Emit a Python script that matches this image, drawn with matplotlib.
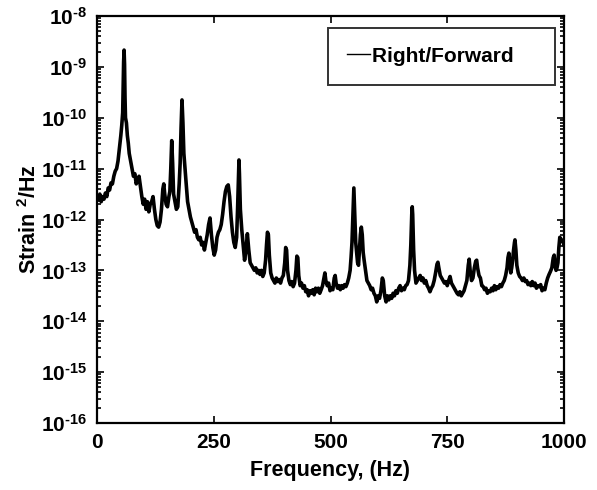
import numpy as np
import matplotlib
matplotlib.use("Agg")
from matplotlib import pyplot as plt
from matplotlib.ticker import FixedLocator, LogLocator, FuncFormatter, NullFormatter

# spectrum: frequency (Hz) and log10 of PSD (strain^2/Hz)
freq = [0, 3, 6, 9, 12, 15, 18, 21, 24, 27, 30, 33, 36, 39, 42, 45, 48, 51, 53, 55,
        56, 57, 58, 59, 60, 61, 63, 65, 67, 69, 72, 75, 78, 81, 84, 87, 90, 93, 96, 99,
        102, 105, 108, 111, 114, 117, 120, 123, 126, 129, 132, 135, 138, 141, 143, 145,
        148, 151, 154, 156, 158, 160, 162, 164, 167, 170, 173, 176, 178, 180, 182, 184,
        186, 188, 191, 194, 197, 200, 203, 206, 209, 212, 215, 218, 221, 224, 227, 230,
        233, 236, 239, 242, 245, 248, 251, 254, 257, 260, 263, 266, 269, 272, 275, 278,
        281, 284, 287, 290, 293, 296, 299, 301, 303, 304, 305, 307, 310, 313, 316, 319,
        322, 325, 328, 331, 334, 337, 340, 343, 346, 349, 352, 355, 358, 361, 363, 365,
        367, 369, 372, 375, 378, 381, 384, 387, 390, 393, 396, 399, 402, 404, 406, 408,
        411, 414, 417, 420, 423, 426, 428, 430, 432, 435, 438, 441, 444, 447, 450, 453,
        456, 459, 462, 465, 468, 471, 474, 477, 480, 483, 486, 488, 490, 493, 496, 499,
        502, 505, 508, 510, 512, 515, 518, 521, 524, 527, 530, 533, 536, 539, 542, 544,
        546, 548, 550, 552, 554, 556, 558, 560, 562, 564, 566, 568, 570, 572, 575, 578,
        581, 584, 587, 590, 593, 596, 599, 602, 605, 608, 611, 613, 616, 619, 622, 625,
        628, 631, 634, 637, 640, 643, 646, 649, 652, 655, 658, 661, 664, 667, 670, 672,
        674, 675, 676, 678, 680, 683, 686, 689, 692, 695, 698, 701, 704, 707, 710, 713,
        716, 719, 722, 725, 728, 730, 732, 735, 738, 741, 744, 747, 750, 753, 756, 759,
        762, 765, 768, 771, 774, 777, 780, 783, 786, 789, 792, 795, 797, 799, 802, 805,
        808, 811, 813, 815, 818, 821, 824, 827, 830, 833, 836, 839, 842, 845, 848, 851,
        854, 857, 860, 863, 866, 869, 872, 875, 878, 880, 882, 884, 886, 888, 890, 892,
        894, 895, 897, 899, 902, 905, 908, 911, 914, 917, 920, 923, 926, 929, 932, 935,
        938, 941, 944, 947, 950, 953, 956, 959, 962, 965, 968, 971, 974, 977, 979, 981,
        983, 985, 987, 989, 991, 993, 995, 998, 1000]

psd_log10 = [-11.55, -11.62, -11.5, -11.65, -11.55, -11.6, -11.48, -11.55, -11.38, -11.42,
             -11.28, -11.3, -11.15, -11.05, -11.0, -10.85, -10.6, -10.35, -10.15, -9.9,
             -9.4, -8.9, -8.67, -8.95, -9.6, -10.0, -10.1, -10.35, -10.5, -10.7,
             -10.85, -11.0, -11.15, -11.1, -11.3, -11.22, -11.15, -11.35, -11.55, -11.7,
             -11.6, -11.8, -11.65, -11.85, -11.7, -11.65, -11.55, -11.8, -12.0, -12.12,
             -12.15, -12.05, -11.8, -11.4, -11.3, -11.5, -11.7, -11.75, -11.55, -11.45,
             -11.0, -10.45, -10.9, -11.5, -11.65, -11.8, -11.75, -11.3, -10.9, -10.2,
             -9.65, -10.1, -10.7, -10.95, -11.3, -11.65, -11.8, -11.95, -12.05, -12.15,
             -12.25, -12.2, -12.35, -12.4, -12.35, -12.5, -12.45, -12.6, -12.45, -12.3,
             -12.1, -11.97, -12.3, -12.55, -12.7, -12.6, -12.35, -12.25, -12.2, -12.1,
             -11.9, -11.65, -11.45, -11.35, -11.32, -11.55, -11.95, -12.25, -12.45, -12.55,
             -12.35, -11.8, -11.1, -10.83, -11.1, -11.8, -12.2, -12.5, -12.8, -12.6,
             -12.28, -12.6, -12.85, -12.9, -12.95, -13.0, -12.95, -13.05, -13.0, -13.08,
             -13.0, -13.12, -13.05, -12.8, -12.5, -12.25, -12.3, -12.7, -13.05, -13.15,
             -13.2, -13.25, -13.15, -13.22, -13.18, -13.25, -13.15, -13.1, -12.85, -12.55,
             -12.6, -13.0, -13.2, -13.28, -13.22, -13.32, -13.25, -13.0, -12.72, -12.75,
             -13.1, -13.3, -13.25, -13.35, -13.3, -13.42, -13.38, -13.5, -13.4, -13.45,
             -13.38, -13.48, -13.35, -13.42, -13.35, -13.45, -13.38, -13.3, -13.15, -13.05,
             -13.2, -13.3, -13.25, -13.4, -13.35, -13.38, -13.15, -13.1, -13.25, -13.35,
             -13.3, -13.38, -13.3, -13.35, -13.28, -13.32, -13.25, -13.15, -13.0, -12.75,
             -12.45, -11.9, -11.38, -11.9, -12.45, -12.65, -12.85, -12.9, -12.6, -12.3,
             -12.15, -12.3, -12.65, -12.8, -13.0, -13.2, -13.25, -13.3, -13.38, -13.35,
             -13.45, -13.5, -13.62, -13.5, -13.55, -13.4, -13.15, -13.2, -13.5, -13.62,
             -13.5, -13.58, -13.5, -13.55, -13.45, -13.5, -13.4, -13.45, -13.35, -13.3,
             -13.4, -13.35, -13.38, -13.3, -13.28, -13.2, -12.9, -12.5, -11.9, -11.75,
             -11.9, -12.6, -13.0, -13.25, -13.2, -13.15, -13.1, -13.2, -13.15, -13.25,
             -13.2, -13.3, -13.35, -13.42, -13.35, -13.3, -13.2, -13.05, -12.88, -12.84,
             -12.95, -13.1, -13.15, -13.2, -13.25, -13.22, -13.3, -13.2, -13.12, -13.25,
             -13.3, -13.35, -13.4, -13.45, -13.48, -13.42, -13.5, -13.45, -13.4, -13.3,
             -13.2, -12.9, -12.78, -13.0, -13.2, -13.15, -12.95, -12.82, -12.8, -12.95,
             -13.1, -13.15, -13.3, -13.32, -13.38, -13.35, -13.45, -13.4, -13.42, -13.35,
             -13.4, -13.3, -13.38, -13.32, -13.35, -13.28, -13.32, -13.25, -13.2, -13.1,
             -12.95, -12.75, -12.66, -12.85, -13.05, -12.95, -12.8, -12.6, -12.45, -12.4,
             -12.6, -12.9, -13.05, -13.12, -13.15, -13.2, -13.15, -13.22, -13.2, -13.28,
             -13.25, -13.3, -13.22, -13.3, -13.25, -13.35, -13.3, -13.32, -13.28, -13.4,
             -13.35, -13.38, -13.25, -13.15, -13.08, -13.02, -12.95, -12.75, -12.7, -12.9,
             -13.0, -12.95, -12.85, -12.55, -12.35, -12.38, -12.4, -12.45, -12.5]

x_ticks = [0, 250, 500, 750, 1000]
y_exponents = [-16, -15, -14, -13, -12, -11, -10, -9, -8]
series_label = "Right/Forward"

plt.rcParams['font.family'] = ['Liberation Sans', 'DejaVu Sans']
plt.rcParams['font.weight'] = 'bold'
plt.rcParams['axes.labelweight'] = 'bold'
plt.rcParams['mathtext.fontset'] = 'custom'
plt.rcParams['mathtext.rm'] = 'Liberation Sans:bold'
plt.rcParams['mathtext.bf'] = 'Liberation Sans:bold'
plt.rcParams['mathtext.default'] = 'rm'


def log_label(v, pos):
    e = int(round(np.log10(v)))
    return r'$10^{' + '\u2010' + str(abs(e)) + '}$'


fig = plt.figure(figsize=(5.97, 4.90), dpi=100)
ax = fig.add_axes([97 / 597, 1 - 423 / 490, 467 / 597, 407 / 490])

ax.semilogy(freq, np.power(10.0, psd_log10), color='black', lw=2.6, label=series_label)

ax.set_xlim(0, 1000)
ax.set_ylim(10.0 ** y_exponents[0], 10.0 ** y_exponents[-1])
ax.xaxis.set_major_locator(FixedLocator(x_ticks))
ax.yaxis.set_major_locator(FixedLocator([10.0 ** e for e in y_exponents]))
ax.yaxis.set_minor_locator(LogLocator(base=10, subs=np.arange(2, 10), numticks=50))
ax.yaxis.set_minor_formatter(NullFormatter())
ax.yaxis.set_major_formatter(FuncFormatter(log_label))

ax.tick_params(which='both', direction='in', top=True, right=True, width=1.2)
ax.tick_params(which='major', length=5, labelsize=15, pad=7)
ax.tick_params(which='minor', length=3)
for s in ax.spines.values():
    s.set_linewidth(1.6)

ax.set_xlabel("Frequency, (Hz)", fontsize=15.5, labelpad=6)
ax.set_ylabel(r"Strain $^{2}$/Hz", fontsize=15.5, labelpad=0)

leg = ax.legend(loc='upper right', bbox_to_anchor=(0.981, 0.9705), borderaxespad=0,
                prop={'size': 15, 'weight': 'bold'}, frameon=True, fancybox=False,
                edgecolor='black', borderpad=0.9, handlelength=1.1, handletextpad=0.1)
leg.get_frame().set_linewidth(1.4)
leg.get_lines()[0].set_linewidth(1.0)
leg.get_texts()[0].set_text(series_label + "    ")

fig.savefig("out.png", dpi=100)
